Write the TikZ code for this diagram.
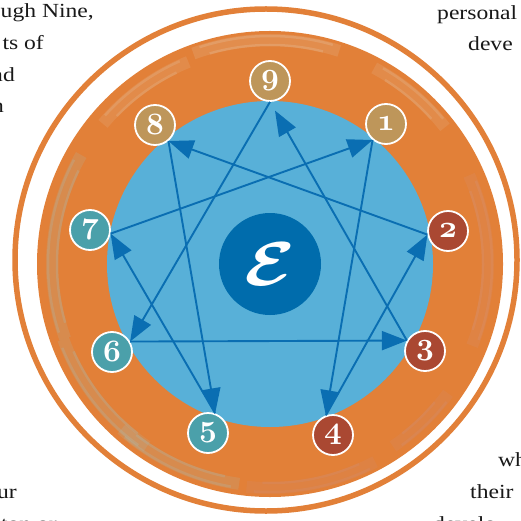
\documentclass[tikz,border=0pt]{standalone}
\usepackage{fontspec}
\newfontfamily\bgfam{Liberation Serif}
\usetikzlibrary{arrows.meta}
\definecolor{ringor}{RGB}{226,128,56}
\definecolor{skyb}{RGB}{88,176,216}
\definecolor{deepb}{RGB}{0,108,172}
\definecolor{arrb}{RGB}{10,110,178}
\definecolor{goldc}{RGB}{190,150,90}
\definecolor{redc}{RGB}{170,72,50}
\definecolor{tealc}{RGB}{75,160,170}
\definecolor{inkc}{RGB}{25,25,25}
\newcommand\numtx[1]{\scalebox{3.1}{\fontsize{10}{10}\usefont{OML}{cmm}{b}{it}#1}}
\newcommand\bgfnt{\bgfam\fontsize{20}{24}\selectfont}
\newcommand\bgt[1]{\scalebox{1.18}[1]{#1}}
\begin{document}
\begin{tikzpicture}[x=1pt,y=-1pt,
 numc/.style={circle,draw=white,line width=1.8pt,minimum size=40pt,inner sep=0pt,text=white},
 link/.style={draw=arrb,line width=1.9pt,-{Triangle[length=25pt,width=19pt]}},
 bgtx/.style={font=\bgfnt,text=inkc,inner sep=0pt},
 streakw/.style={line width=12pt,opacity=0.15},
 streakn/.style={line width=2.5pt,opacity=0.2}]
\useasboundingbox (0,0) rectangle (521,521);
\clip (0,0) rectangle (521,521);
\fill[white] (0,0) rectangle (521,521);
% surrounding page text
\node[bgtx,anchor=base east] (t1) at (94,18) {\bgt{ugh Nine,}};
\node[bgtx,anchor=base east] (t2) at (44,50) {\bgt{ts of}};
\node[bgtx,anchor=base east] (t3) at (15,82) {\bgt{nd}};
\node[bgtx,anchor=base east] (t4) at (4,113) {\bgt{n}};
\node[bgtx,anchor=base west] (t5) at (437,20) {\bgt{personal}};
\node[bgtx,anchor=base west] (t6) at (468,51) {\bgt{deve}};
\node[bgtx,anchor=base west] (t7) at (498,466) {\bgt{wh}};
\node[bgtx,anchor=base west] (t8) at (470,498) {\bgt{their}};
\node[bgtx,anchor=base west] (t9) at (433,530) {\bgt{develo}};
\node[bgtx,anchor=base east] (t10) at (17,498) {\bgt{ur}};
\node[bgtx,anchor=base east] (t11) at (57,530) {\bgt{ton or}};
% rings
\coordinate (C) at (270,264);
\coordinate (C2) at (266,260);
\draw[ringor,line width=5.5pt] (C2) circle[radius=251pt];
\fill[ringor] (C) circle[radius=233pt];
\foreach \col/\a/\b/\r in {
  white!65!goldc/72/110/224,
  white!55!goldc/112/140/218,
  white!55!goldc/38/62/222,
  white!45!redc/-22/24/218,
  white!40!redc/-56/-36/220,
  white!40!redc/-96/-62/224,
  white!45!tealc/-132/-98/222,
  white!45!tealc/150/200/218,
  white!45!tealc/200/236/220}
{
  \draw[streakw,color=\col] ([shift={(\a:\r pt)}]C) arc[start angle=\a,end angle=\b,radius=\r pt];
  \draw[streakn,color=\col] ([shift={(\a+4:\r pt-5pt)}]C) arc[start angle=\a+4,end angle=\b-4,radius=\r pt-5pt];
  \draw[streakn,color=\col] ([shift={(\a+2:\r pt+4pt)}]C) arc[start angle=\a+2,end angle=\b-2,radius=\r pt+4pt];
}
\fill[skyb] (C) circle[radius=163pt];
\node[circle,fill=deepb,minimum size=102pt,inner sep=0pt,text=white] (ctr) at (C) {\scalebox{7.4}[6.2]{\boldmath$\mathcal{E}$}};
% number circles
\node[numc,fill=goldc] (n9) at (270,81) {\numtx{9}};
\node[numc,fill=goldc] (n1) at (386,124) {\numtx{1}};
\node[numc,fill=redc] (n2) at (448,231) {\numtx{2}};
\node[numc,fill=redc] (n3) at (425,351) {\numtx{3}};
\node[numc,fill=redc] (n4) at (333,435) {\numtx{4}};
\node[numc,fill=tealc] (n5) at (208,433) {\numtx{5}};
\node[numc,fill=tealc] (n6) at (112,352) {\numtx{6}};
\node[numc,fill=tealc] (n7) at (90,230) {\numtx{7}};
\node[numc,fill=goldc] (n8) at (155,125) {\numtx{8}};
% connectors
\draw[link] (n1.230) -- (n4.110);
\draw[link] (n4.110) -- (n2.190);
\draw[link] (n2.190) -- (n8.310);
\draw[link] (n8.310) -- (n5.70);
\draw[link] (n5.70) -- (n7.350);
\draw[link] (n7.350) -- (n1.230);
\draw[link] (n9.270) -- (n6.30);
\draw[link] (n6.30) -- (n3.150);
\draw[link,shorten >=10pt] (n3.150) -- (n9.270);
\end{tikzpicture}
\end{document}
